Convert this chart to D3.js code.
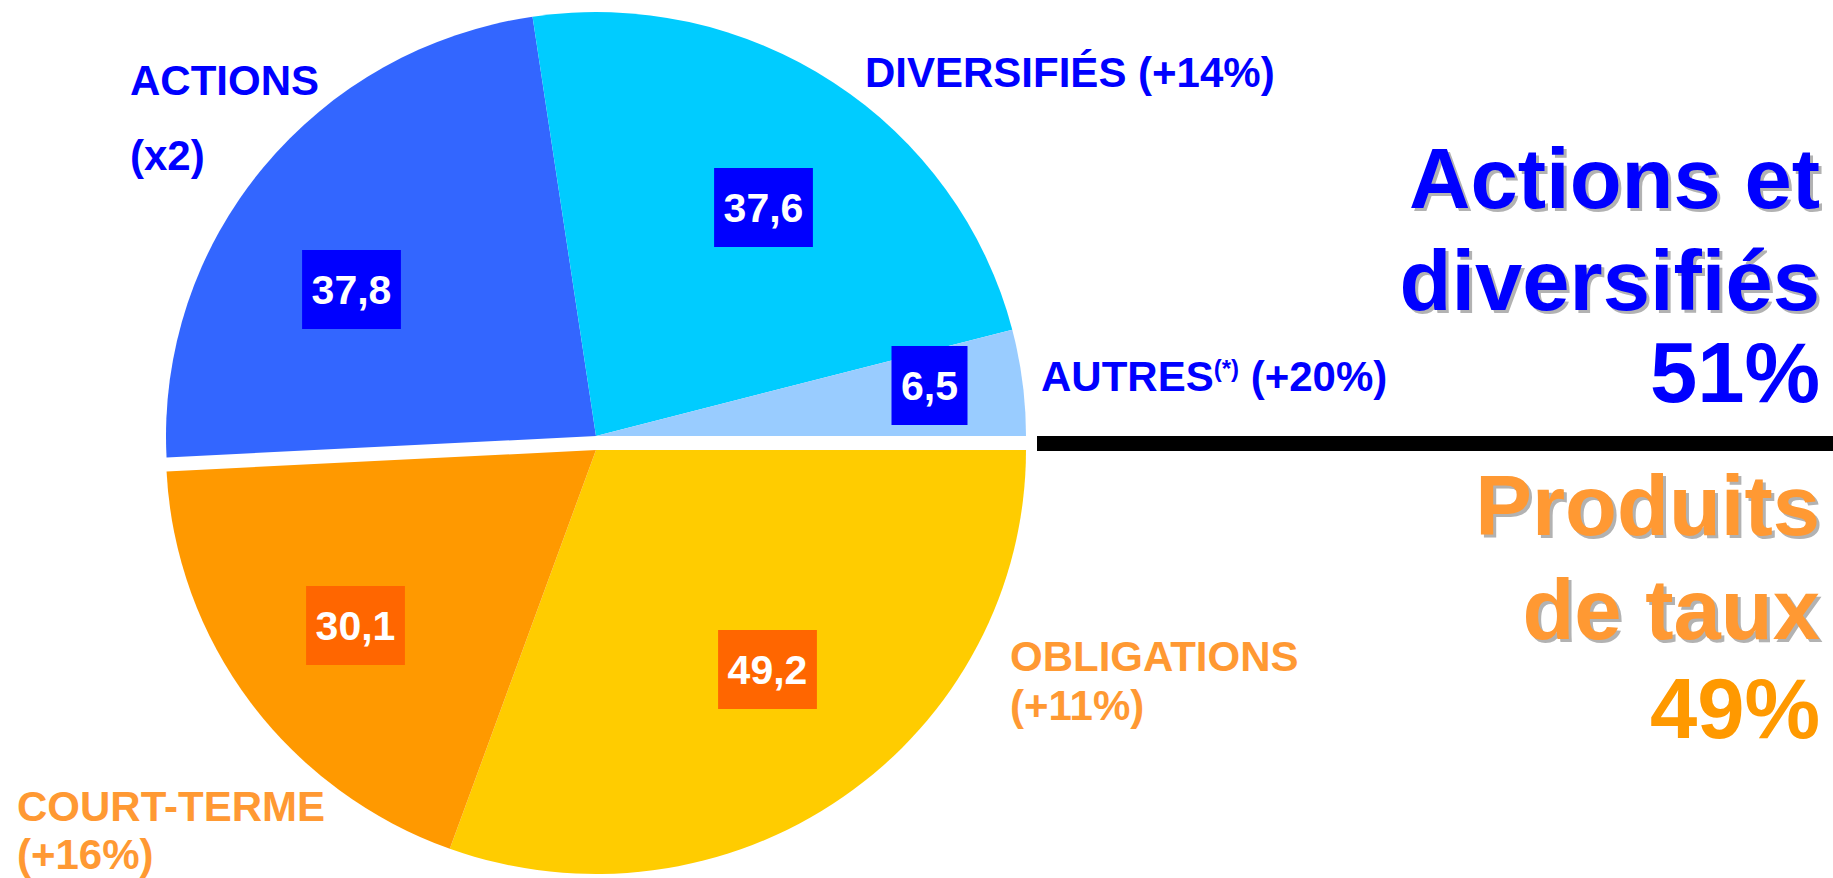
<!DOCTYPE html>
<html>
<head>
<meta charset="utf-8">
<script src="https://cdn.jsdelivr.net/npm/d3@7"></script>
<style>
  html, body { margin: 0; padding: 0; background: #ffffff; }
  svg { display: block; }
  text { font-family: "Liberation Sans", Arial, Helvetica, sans-serif; font-weight: bold; }
</style>
</head>
<body>
<svg id="chart" width="1833" height="878"></svg>
<script>
// ---------------- DATA ----------------
// slices, listed clockwise starting from 3 o'clock
const categories   = ["OBLIGATIONS", "COURT-TERME", "ACTIONS", "DIVERSIFIÉS", "AUTRES"];
const values       = [49.2, 30.1, 37.8, 37.6, 6.5];
const growthLabels = ["(+11%)", "(+16%)", "(x2)", "(+14%)", "(+20%)"];
const footnotes    = ["", "", "", "", "(*)"];
const groupOf      = ["taux", "taux", "actions", "actions", "actions"];
const groupKeys    = ["actions", "taux"];
const groupTitles  = [["Actions et", "diversifiés"], ["Produits", "de taux"]];

// ---------------- STYLE / LAYOUT ----------------
const W = 1833, H = 878;
const sliceColors = { "OBLIGATIONS": "#FFCC00", "COURT-TERME": "#FF9900", "ACTIONS": "#3366FF", "DIVERSIFIÉS": "#00CCFF", "AUTRES": "#99CCFF" };
const groupStyle = {
  actions: { label: "#0000FF", box: "#0000FF", title: "#0000FF", share: "#0000FF", cy: 436 },
  taux:    { label: "#FF9933", box: "#FF6600", title: "#FF9933", share: "#FF9900", cy: 450 }
};
const pieCx = 596, rx = 430, ry = 424;

// label placements (annotation layout, not data)
const catLabelPos = {
  "ACTIONS":     { x: 130,  y1: 95,  y2: 170, inline: false },
  "DIVERSIFIÉS": { x: 865,  y1: 87,  inline: true },
  "AUTRES":      { x: 1041, y1: 391, inline: true },
  "OBLIGATIONS": { x: 1010, y1: 671, y2: 720, inline: false },
  "COURT-TERME": { x: 17,   y1: 821, y2: 869, inline: false }
};
const boxCenters = {
  "ACTIONS":     [351.5, 289.5],
  "DIVERSIFIÉS": [763.5, 207.5],
  "AUTRES":      [929.5, 385.5],
  "COURT-TERME": [355.5, 625.5],
  "OBLIGATIONS": [767.5, 669.5]
};
const titleLayout = {
  actions: { x: 1820, ys: [208, 310], shareY: 402 },
  taux:    { x: 1820, ys: [535, 639], shareY: 738 }
};

// ---------------- CHART ----------------
const svg = d3.select("#chart");
const frLocale = d3.formatLocale({ decimal: ",", thousands: " ", grouping: [3], currency: ["", " €"] });
const fmt = frLocale.format(".1f");

const data = categories.map((c, i) => ({ cat: c, value: values[i], growth: growthLabels[i], note: footnotes[i], group: groupOf[i] }));
const total = d3.sum(values);

const pie = d3.pie().sort(null).value(d => d.value)
  .startAngle(Math.PI / 2).endAngle(Math.PI / 2 + 2 * Math.PI);
const arcs = pie(data);
const arc = d3.arc().innerRadius(0).outerRadius(rx);

// slices (each group exploded vertically around its own centre)
groupKeys.forEach(g => {
  const gEl = svg.append("g")
    .attr("transform", `translate(${pieCx},${groupStyle[g].cy}) scale(1,${ry / rx})`);
  gEl.selectAll("path")
    .data(arcs.filter(a => a.data.group === g))
    .join("path")
    .attr("d", arc)
    .attr("fill", d => sliceColors[d.data.cat]);
});

// value boxes
const valFont = 41;
arcs.forEach(a => {
  const [bx, by] = boxCenters[a.data.cat];
  const gB = svg.append("g");
  const rect = gB.append("rect").attr("fill", groupStyle[a.data.group].box);
  const t = gB.append("text")
    .attr("x", bx).attr("y", by + valFont * 0.35)
    .attr("text-anchor", "middle")
    .attr("font-size", valFont)
    .attr("fill", "#FFFFFF")
    .text(fmt(a.data.value));
  const tw = t.node().getComputedTextLength();
  const bw = tw + 19, bh = 79;
  rect.attr("x", bx - bw / 2).attr("y", by - bh / 2).attr("width", bw).attr("height", bh);
});

// category labels
const catFont = 42;
data.forEach(d => {
  const p = catLabelPos[d.cat];
  const col = groupStyle[d.group].label;
  const t = svg.append("text")
    .attr("x", p.x).attr("y", p.y1)
    .attr("font-size", catFont)
    .attr("fill", col);
  t.append("tspan").text(d.cat);
  if (d.note) {
    t.append("tspan").attr("font-size", 24).attr("dy", -14).text(d.note);
    t.append("tspan").attr("dy", 14).text("\u00A0" + d.growth);
  } else if (p.inline) {
    t.append("tspan").text("\u00A0" + d.growth);
  } else {
    svg.append("text")
      .attr("x", p.x).attr("y", p.y2)
      .attr("font-size", catFont)
      .attr("fill", col)
      .text(d.growth);
  }
});

// separator rule
svg.append("rect")
  .attr("x", 1037).attr("y", 436)
  .attr("width", W - 1037).attr("height", 15)
  .attr("fill", "#000000");

// group titles with shares
const titleFont = 85;
groupKeys.forEach((g, gi) => {
  const share = d3.sum(data.filter(d => d.group === g), d => d.value) / total;
  const L = titleLayout[g];
  groupTitles[gi].forEach((line, li) => {
    svg.append("text")
      .attr("x", L.x + 3).attr("y", L.ys[li] + 3)
      .attr("text-anchor", "end")
      .attr("font-size", titleFont)
      .attr("fill", "#B2B2B2")
      .text(line);
    svg.append("text")
      .attr("x", L.x).attr("y", L.ys[li])
      .attr("text-anchor", "end")
      .attr("font-size", titleFont)
      .attr("fill", groupStyle[g].title)
      .text(line);
  });
  svg.append("text")
    .attr("x", L.x).attr("y", L.shareY)
    .attr("text-anchor", "end")
    .attr("font-size", titleFont)
    .attr("fill", groupStyle[g].share)
    .text(Math.round(share * 100) + "%");
});
</script>
</body>
</html>
